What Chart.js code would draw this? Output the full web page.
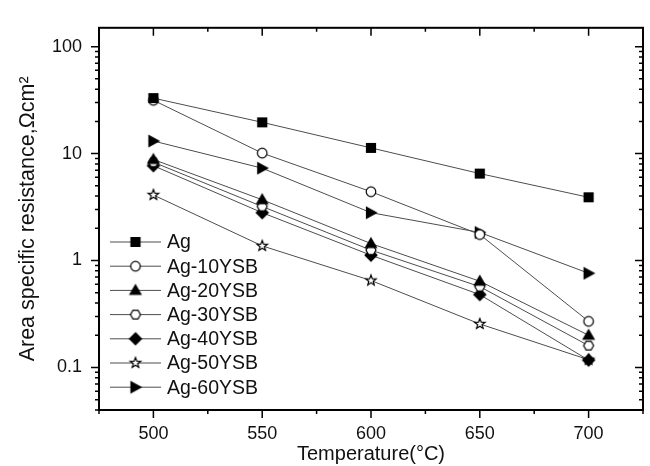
<!DOCTYPE html>
<html>
<head>
<meta charset="utf-8">
<script src="https://cdn.jsdelivr.net/npm/chart.js@4.4.1/dist/chart.umd.min.js"></script>
<style>
  body { margin: 0; background: #fff; }
  #wrap { width: 650px; height: 466px; }
</style>
</head>
<body>
<div id="wrap"><canvas id="asrChart"></canvas></div>
<script>
// Temperatures (x) and area specific resistance per sample (Ohm cm2)
const temps = [500, 550, 600, 650, 700];
const ag     = [33.0, 19.6, 11.3, 6.5, 3.9];
const ag10   = [31.5, 10.1, 4.4, 1.75, 0.27];
const ag20   = [8.8, 3.7, 1.44, 0.64, 0.20];
const ag30   = [8.3, 3.2, 1.25, 0.57, 0.16];
const ag40   = [7.7, 2.8, 1.12, 0.48, 0.117];
const ag50   = [4.1, 1.37, 0.65, 0.255, 0.118];
const ag60   = [13.1, 7.3, 2.8, 1.83, 0.76];

const seriesNames = ['Ag', 'Ag-10YSB', 'Ag-20YSB', 'Ag-30YSB', 'Ag-40YSB', 'Ag-50YSB', 'Ag-60YSB'];

// Axis ticks
const xTicks = [500, 550, 600, 650, 700];
const xMinorTicks = [475, 525, 575, 625, 675, 725];
const yTicks = [0.1, 1, 10, 100];
const yTickLabels = ['0.1', '1', '10', '100'];

const FONT = '"Liberation Sans", Arial, sans-serif';
const LINE_COLOR = '#4d4d4d';

// build a small canvas to use as a point marker
function makeMarker(shape, filled) {
    const s = 16;
    const c = document.createElement('canvas');
    c.width = s; c.height = s;
    const g = c.getContext('2d');
    const m = s / 2;
    g.beginPath();
    switch (shape) {
        case 'square':
            g.rect(m - 4.5, m - 4.5, 9, 9);
            break;
        case 'circle':
            g.arc(m, m, 4.8, 0, Math.PI * 2);
            break;
        case 'triangle':
            g.moveTo(m, m - 5.5); g.lineTo(m + 5.5, m + 4); g.lineTo(m - 5.5, m + 4); g.closePath();
            break;
        case 'hexagon':
            for (let k = 0; k < 6; k++) {
                const a = k * Math.PI / 3;
                const px = m + 5 * Math.cos(a), py = m + 5 * Math.sin(a);
                k === 0 ? g.moveTo(px, py) : g.lineTo(px, py);
            }
            g.closePath();
            break;
        case 'diamond':
            g.moveTo(m, m - 6); g.lineTo(m + 6, m); g.lineTo(m, m + 6); g.lineTo(m - 6, m); g.closePath();
            break;
        case 'star':
            for (let k = 0; k < 10; k++) {
                const r = k % 2 === 0 ? 5.5 : 2.3;
                const a = -Math.PI / 2 + k * Math.PI / 5;
                const px = m + r * Math.cos(a), py = m + r * Math.sin(a);
                k === 0 ? g.moveTo(px, py) : g.lineTo(px, py);
            }
            g.closePath();
            break;
        case 'right':
            g.moveTo(m - 4.5, m - 5.5); g.lineTo(m + 5.5, m); g.lineTo(m - 4.5, m + 5.5); g.closePath();
            break;
    }
    g.fillStyle = filled ? '#000' : '#fff';
    g.fill();
    g.lineWidth = 1.2;
    g.strokeStyle = '#000';
    g.stroke();
    return c;
}

const markers = [
    makeMarker('square', true),
    makeMarker('circle', false),
    makeMarker('triangle', true),
    makeMarker('hexagon', false),
    makeMarker('diamond', true),
    makeMarker('star', false),
    makeMarker('right', true)
];

const allSeries = [ag, ag10, ag20, ag30, ag40, ag50, ag60];

const datasets = allSeries.map((vals, i) => ({
    label: seriesNames[i],
    data: temps.map((t, j) => ({ x: t, y: vals[j] })),
    borderColor: LINE_COLOR,
    borderWidth: 1,
    pointStyle: markers[i],
    pointRadius: 5,
    fill: false
}));

// frame, inward/outward ticks and in-plot legend
const framePlugin = {
    id: 'frame',
    afterDraw(chart) {
        const ctx = chart.ctx;
        const a = chart.chartArea;
        const xs = chart.scales.x, ys = chart.scales.y;
        ctx.save();
        ctx.strokeStyle = '#000';
        ctx.lineWidth = 2;
        ctx.strokeRect(a.left, a.top, a.right - a.left, a.bottom - a.top);

        ctx.lineWidth = 1.5;
        ctx.beginPath();
        // x ticks: bottom outward, top inward
        xTicks.forEach(v => {
            const px = xs.getPixelForValue(v);
            ctx.moveTo(px, a.bottom); ctx.lineTo(px, a.bottom + 8);
            ctx.moveTo(px, a.top); ctx.lineTo(px, a.top + 8);
        });
        xMinorTicks.forEach(v => {
            const px = xs.getPixelForValue(v);
            ctx.moveTo(px, a.bottom); ctx.lineTo(px, a.bottom + 4);
            ctx.moveTo(px, a.top); ctx.lineTo(px, a.top + 4);
        });
        // y ticks: left outward, right inward
        yTicks.forEach(v => {
            const py = ys.getPixelForValue(v);
            ctx.moveTo(a.left, py); ctx.lineTo(a.left - 8, py);
            ctx.moveTo(a.right, py); ctx.lineTo(a.right - 8, py);
        });
        for (let d = -2; d <= 2; d++) {
            for (let k = 2; k <= 9; k++) {
                const v = k * Math.pow(10, d);
                if (v < ys.min || v > ys.max) continue;
                const py = ys.getPixelForValue(v);
                ctx.moveTo(a.left, py); ctx.lineTo(a.left - 4, py);
                ctx.moveTo(a.right, py); ctx.lineTo(a.right - 4, py);
            }
        }
        ctx.stroke();

        // legend inside plot, lower left
        const lx0 = 110, lx1 = 161, ly0 = 242, step = 24.2;
        ctx.font = '19.5px ' + FONT;
        ctx.textBaseline = 'middle';
        ctx.fillStyle = '#111';
        seriesNames.forEach((name, i) => {
            const y = ly0 + i * step;
            ctx.strokeStyle = LINE_COLOR;
            ctx.lineWidth = 1;
            ctx.beginPath();
            ctx.moveTo(lx0, y); ctx.lineTo(lx1, y);
            ctx.stroke();
            const mk = markers[i];
            ctx.drawImage(mk, (lx0 + lx1) / 2 - mk.width / 2, y - mk.height / 2);
            ctx.fillText(name, 167, y + 1);
        });
        ctx.restore();
    }
};

const ctx = document.getElementById('asrChart').getContext('2d');
const asrChart = new Chart(ctx, {
    type: 'line',
    data: { datasets: datasets },
    options: {
        animation: false,
        responsive: true,
        maintainAspectRatio: false,
        layout: { padding: { top: 10, right: 7, left: 0, bottom: 0 } },
        plugins: {
            legend: { display: false },
            tooltip: { enabled: false }
        },
        scales: {
            x: {
                type: 'linear',
                min: 475,
                max: 725,
                grid: { display: false, drawTicks: false },
                border: { display: false },
                afterBuildTicks: scale => { scale.ticks = xTicks.map(v => ({ value: v })); },
                afterFit: scale => { scale.height = 56; },
                ticks: {
                    padding: 13,
                    color: '#111',
                    font: { family: FONT, size: 18 },
                    maxRotation: 0
                },
                title: {
                    display: true,
                    text: 'Temperature(\u00B0C)',
                    color: '#111',
                    font: { family: FONT, size: 20 },
                    padding: { top: 0, bottom: 0 }
                }
            },
            y: {
                type: 'logarithmic',
                min: 0.04,
                max: 150,
                grid: { display: false, drawTicks: false },
                border: { display: false },
                afterBuildTicks: scale => { scale.ticks = yTicks.map(v => ({ value: v, major: true })); },
                afterFit: scale => { scale.width = 99; },
                ticks: {
                    padding: 17,
                    color: '#111',
                    font: { family: FONT, size: 18 },
                    callback: (value) => {
                        const i = yTicks.indexOf(value);
                        return i >= 0 ? yTickLabels[i] : '';
                    }
                },
                title: {
                    display: true,
                    text: 'Area specific resistance,\u03A9cm\u00B2',
                    color: '#111',
                    font: { family: FONT, size: 21.5 },
                    padding: { top: 15, bottom: 0 }
                }
            }
        }
    },
    plugins: [framePlugin]
});
</script>
</body>
</html>
